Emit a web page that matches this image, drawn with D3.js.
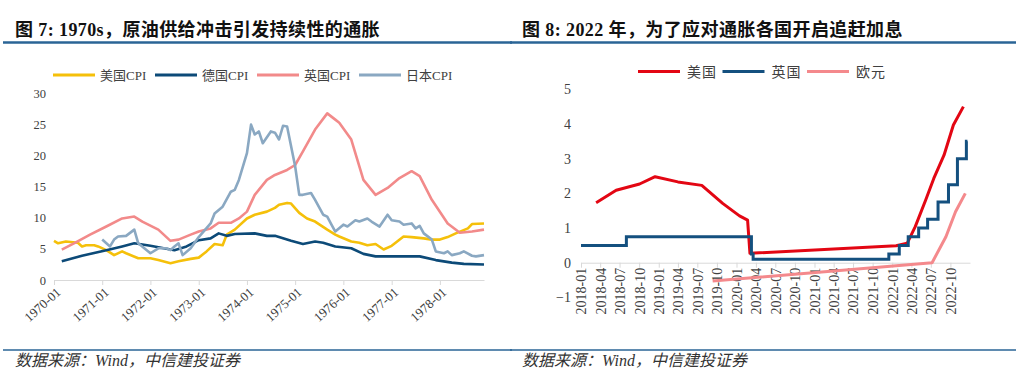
<!DOCTYPE html>
<html>
<head>
<meta charset="utf-8">
<script src="https://cdn.jsdelivr.net/npm/d3@7"></script>
<style>
  body { margin: 0; background: #fff; }
</style>
</head>
<body>
<div id="chart"></div>
<script>
// ---------- figure 7: CPI yoy (%) ----------
const usCPI = [
  ["1970-01", 6.3], ["1970-02", 5.9], ["1970-04", 6.2], ["1970-07", 6.0], ["1970-08", 5.4],
  ["1970-09", 5.6], ["1970-11", 5.6], ["1970-12", 5.4], ["1971-02", 4.8], ["1971-04", 4.0],
  ["1971-06", 4.6], ["1971-07", 4.3], ["1971-10", 3.5], ["1972-01", 3.5], ["1972-03", 3.2],
  ["1972-06", 2.7], ["1972-08", 3.0], ["1972-11", 3.4], ["1973-01", 3.6], ["1973-03", 4.6],
  ["1973-05", 5.8], ["1973-07", 5.6], ["1973-08", 7.3], ["1973-10", 8.1], ["1974-01", 9.9],
  ["1974-03", 10.5], ["1974-06", 11.0], ["1974-08", 11.6], ["1974-09", 12.1], ["1974-11", 12.4],
  ["1974-12", 12.3], ["1975-02", 10.8], ["1975-04", 9.9], ["1975-06", 9.4], ["1975-09", 8.1],
  ["1975-11", 7.3], ["1975-12", 7.0], ["1976-03", 6.2], ["1976-05", 6.0], ["1976-07", 5.6],
  ["1976-09", 5.8], ["1976-11", 4.9], ["1977-01", 5.5], ["1977-04", 7.0], ["1977-06", 6.9],
  ["1977-09", 6.7], ["1977-11", 6.5], ["1978-01", 6.5], ["1978-03", 6.9], ["1978-05", 7.5],
  ["1978-08", 8.3], ["1978-09", 9.0], ["1978-12", 9.1]
];
const deCPI = [
  ["1970-03", 3.0], ["1970-08", 3.9], ["1971-02", 4.8], ["1971-06", 5.4], ["1971-09", 5.9],
  ["1972-01", 5.5], ["1972-07", 4.8], ["1972-10", 5.4], ["1973-01", 6.4], ["1973-04", 6.7],
  ["1973-06", 7.5], ["1973-08", 7.1], ["1973-10", 7.4], ["1974-03", 7.5], ["1974-06", 7.1],
  ["1974-08", 7.1], ["1974-12", 6.3], ["1975-03", 5.8], ["1975-06", 6.2], ["1975-08", 6.0],
  ["1975-11", 5.4], ["1976-03", 5.1], ["1976-06", 4.2], ["1976-09", 3.8], ["1977-02", 3.8],
  ["1977-08", 3.8], ["1977-12", 3.2], ["1978-04", 2.8], ["1978-07", 2.6], ["1978-12", 2.5]
];
const ukCPI = [
  ["1970-03", 4.9], ["1970-06", 5.9], ["1970-10", 7.3], ["1971-02", 8.6], ["1971-06", 9.9],
  ["1971-09", 10.2], ["1971-11", 9.4], ["1972-03", 8.1], ["1972-06", 6.3], ["1972-08", 6.5],
  ["1972-11", 7.3], ["1973-01", 7.8], ["1973-04", 8.3], ["1973-06", 9.2], ["1973-09", 9.2],
  ["1973-11", 9.9], ["1974-01", 11.0], ["1974-03", 13.7], ["1974-06", 16.1], ["1974-08", 16.9],
  ["1974-11", 17.7], ["1975-01", 18.5], ["1975-03", 20.7], ["1975-06", 24.2], ["1975-09", 26.8],
  ["1975-11", 25.8], ["1975-12", 25.3], ["1976-03", 22.6], ["1976-06", 16.1], ["1976-09", 13.7],
  ["1976-12", 14.8], ["1977-03", 16.4], ["1977-06", 17.5], ["1977-08", 16.7], ["1977-11", 12.9],
  ["1978-03", 9.1], ["1978-06", 7.6], ["1978-09", 7.8], ["1978-12", 8.1]
];
const jpCPI = [
  ["1971-01", 6.5], ["1971-03", 5.4], ["1971-04", 6.5], ["1971-05", 7.0], ["1971-07", 7.1],
  ["1971-09", 8.1], ["1971-10", 5.9], ["1972-01", 4.3], ["1972-03", 5.1], ["1972-05", 5.1],
  ["1972-06", 4.8], ["1972-07", 5.4], ["1972-08", 5.9], ["1972-09", 4.0], ["1972-11", 5.1],
  ["1973-01", 6.9], ["1973-04", 9.1], ["1973-05", 10.7], ["1973-07", 11.8], ["1973-09", 14.2],
  ["1973-10", 14.5], ["1973-11", 16.1], ["1974-01", 20.4], ["1974-02", 25.0], ["1974-03", 23.4],
  ["1974-04", 23.9], ["1974-05", 22.0], ["1974-07", 23.9], ["1974-08", 23.7], ["1974-09", 22.6],
  ["1974-10", 24.8], ["1974-11", 24.7], ["1975-01", 18.3], ["1975-02", 13.7], ["1975-03", 13.7],
  ["1975-05", 14.0], ["1975-06", 12.9], ["1975-08", 10.5], ["1975-09", 10.2], ["1975-10", 9.0],
  ["1975-11", 7.8], ["1976-01", 8.9], ["1976-02", 8.6], ["1976-04", 9.6], ["1976-05", 9.4],
  ["1976-07", 9.9], ["1976-08", 9.4], ["1976-10", 8.6], ["1976-12", 10.5], ["1977-01", 9.6],
  ["1977-03", 9.4], ["1977-04", 8.9], ["1977-06", 9.1], ["1977-07", 8.3], ["1977-08", 8.7],
  ["1977-09", 7.5], ["1977-11", 6.5], ["1977-12", 4.6], ["1978-02", 4.3], ["1978-03", 4.6],
  ["1978-04", 4.0], ["1978-06", 4.3], ["1978-07", 4.6], ["1978-09", 3.9], ["1978-10", 3.8],
  ["1978-12", 4.0]
];
const cpiNames = ["美国CPI", "德国CPI", "英国CPI", "日本CPI"];
const cpiTicks = ["1970-01", "1971-01", "1972-01", "1973-01", "1974-01", "1975-01", "1976-01", "1977-01", "1978-01"];
const cpiYTicks = [0, 5, 10, 15, 20, 25, 30];

// ---------- figure 8: policy rates (%) ----------
const usRate = [
  ["2018-03-13", 1.73], ["2018-06-15", 2.09], ["2018-10-03", 2.27], ["2018-12-15", 2.48],
  ["2019-04-01", 2.33], ["2019-07-22", 2.23], ["2019-10-28", 1.71], ["2020-01-15", 1.35],
  ["2020-02-22", 1.23], ["2020-03-04", 0.27], ["2022-01-19", 0.49], ["2022-03-12", 0.56],
  ["2022-04-19", 1.04], ["2022-06-07", 1.81], ["2022-07-15", 2.43], ["2022-09-01", 3.10],
  ["2022-10-15", 3.97], ["2022-12-01", 4.50]
];
const ukRate = [
  ["2018-01-01", 0.5], ["2018-08-02", 0.75], ["2020-03-11", 0.25], ["2020-03-19", 0.1],
  ["2021-12-16", 0.25], ["2022-02-03", 0.5], ["2022-03-17", 0.75], ["2022-05-05", 1.0],
  ["2022-06-16", 1.25], ["2022-08-04", 1.75], ["2022-09-22", 2.25], ["2022-11-03", 3.0],
  ["2022-12-15", 3.5], ["2022-12-20", 3.5]
];
const euroRate = [
  ["2019-09-11", -0.53], ["2022-07-07", 0.0], ["2022-09-10", 0.75], ["2022-10-25", 1.47],
  ["2022-12-10", 2.0]
];
const rateNames = ["美国", "英国", "欧元"];
const rateTicks = [
  "2018-01", "2018-04", "2018-07", "2018-10", "2019-01", "2019-04", "2019-07", "2019-10",
  "2020-01", "2020-04", "2020-07", "2020-10", "2021-01", "2021-04", "2021-07", "2021-10",
  "2022-01", "2022-04", "2022-07", "2022-10"
];
const rateYTicks = [-1, 0, 1, 2, 3, 4, 5];

const titles = ["图 7: 1970s，原油供给冲击引发持续性的通胀", "图 8: 2022 年，为了应对通胀各国开启追赶加息"];
const source = "数据来源：Wind，中信建投证券";

const serif = '"Liberation Serif", "Times New Roman", "Noto Sans CJK SC", serif';
const cjk = '"Liberation Serif", "Noto Sans CJK SC", sans-serif';
const parseMonth = d3.timeParse("%Y-%m");
const parseDay = d3.timeParse("%Y-%m-%d");

const svg = d3.select("#chart")
  .append("svg")
  .attr("width", 1024)
  .attr("height", 370)
  .style("background", "#fff");

// title, rules and source note for both panels
[[3, 512, 15, 0.4], [510, 1016, 522, 0.4]].forEach(([x0, x1, tx, ls], i) => {
  svg.append("text")
    .attr("x", tx).attr("y", 36)
    .attr("font-family", cjk).attr("font-weight", "bold")
    .attr("font-size", 18).attr("fill", "#111")
    .attr("letter-spacing", ls)
    .text(titles[i]);
  svg.append("line")
    .attr("x1", x0).attr("x2", x1).attr("y1", 42.5).attr("y2", 42.5)
    .attr("stroke", "#2a6496").attr("stroke-width", 2.5);
  svg.append("line")
    .attr("x1", x0).attr("x2", x1).attr("y1", 350).attr("y2", 350)
    .attr("stroke", "#2a6496").attr("stroke-width", 1.5);
  svg.append("text")
    .attr("x", tx).attr("y", 366)
    .attr("font-family", cjk).attr("font-style", "italic")
    .attr("font-size", 16).attr("fill", "#333")
    .text(source);
});

// ---------- left chart ----------
const x1 = d3.scaleTime()
  .domain([parseMonth("1970-01"), parseMonth("1978-12")])
  .range([54, 484]);
const y1 = d3.scaleLinear().domain([0, 30]).range([280, 93.5]);

const ax1 = svg.append("g")
  .attr("transform", "translate(0,280)")
  .call(d3.axisBottom(x1)
    .tickValues(cpiTicks.map(parseMonth))
    .tickFormat(d3.timeFormat("%Y-%m"))
    .tickSize(5).tickSizeOuter(0));
ax1.select(".domain").attr("stroke", "#d9d9d9");
ax1.selectAll(".tick line").attr("stroke", "#d9d9d9");
ax1.selectAll(".tick text")
  .attr("font-family", serif).attr("font-size", 13).attr("fill", "#404040")
  .attr("text-anchor", "end")
  .attr("x", 0).attr("y", 0).attr("dy", "0.35em")
  .attr("transform", "translate(4,10) rotate(-42)");

const ay1 = svg.append("g")
  .attr("transform", "translate(46,0)")
  .call(d3.axisLeft(y1).tickValues(cpiYTicks).tickSize(0).tickPadding(0));
ay1.select(".domain").remove();
ay1.selectAll("text").attr("font-family", serif).attr("font-size", 12.5).attr("fill", "#404040");

const cpiColors = ["#f5c00a", "#0c4a78", "#f28a8a", "#8aa8c2"];
const line1 = d3.line()
  .x(d => x1(parseMonth(d[0])))
  .y(d => y1(d[1]));
[usCPI, deCPI, ukCPI, jpCPI].forEach((s, i) => {
  svg.append("path")
    .datum(s)
    .attr("fill", "none")
    .attr("stroke", cpiColors[i])
    .attr("stroke-width", 2.6)
    .attr("stroke-linejoin", "round")
    .attr("d", line1);
});

// legend
cpiNames.forEach((name, i) => {
  const lx = 53 + i * 102;
  svg.append("line")
    .attr("x1", lx).attr("x2", lx + 42).attr("y1", 75).attr("y2", 75)
    .attr("stroke", cpiColors[i]).attr("stroke-width", 3);
  svg.append("text")
    .attr("x", lx + 47).attr("y", 79.5)
    .attr("font-family", cjk).attr("font-size", 13).attr("fill", "#404040")
    .text(name);
});

// ---------- right chart ----------
const x2 = d3.scaleTime()
  .domain([parseMonth("2018-01"), parseMonth("2023-01")])
  .range([581, 970]);
const y2 = d3.scaleLinear().domain([-1, 5]).range([297.4, 89.3]);

const ax2 = svg.append("g")
  .attr("transform", `translate(0,${y2(0)})`)
  .call(d3.axisBottom(x2)
    .tickValues(rateTicks.map(parseMonth))
    .tickFormat(d3.timeFormat("%Y-%m"))
    .tickSize(5).tickSizeOuter(0));
ax2.select(".domain").attr("stroke", "#d9d9d9");
ax2.selectAll(".tick line").attr("stroke", "#d9d9d9");
ax2.selectAll(".tick text")
  .attr("font-family", serif).attr("font-size", 14).attr("fill", "#404040")
  .attr("text-anchor", "end")
  .attr("x", -5).attr("y", 0).attr("dy", "0.35em")
  .attr("transform", "rotate(-90)");

const ay2 = svg.append("g")
  .attr("transform", "translate(571,0)")
  .call(d3.axisLeft(y2).tickValues(rateYTicks).tickFormat(d3.format("d")).tickSize(0).tickPadding(0));
ay2.select(".domain").remove();
ay2.selectAll("text").attr("font-family", serif).attr("font-size", 14).attr("fill", "#404040");

const rateColors = ["#e30613", "#14507f", "#f4898c"];
const line2 = d3.line()
  .x(d => x2(parseDay(d[0])))
  .y(d => y2(d[1]));
svg.append("path").datum(usRate)
  .attr("fill", "none").attr("stroke", rateColors[0]).attr("stroke-width", 3)
  .attr("stroke-linejoin", "round").attr("d", line2);
svg.append("path").datum(ukRate)
  .attr("fill", "none").attr("stroke", rateColors[1]).attr("stroke-width", 3)
  .attr("d", line2.curve(d3.curveStepAfter));
line2.curve(d3.curveLinear);
svg.append("path").datum(euroRate)
  .attr("fill", "none").attr("stroke", rateColors[2]).attr("stroke-width", 3)
  .attr("stroke-linejoin", "round").attr("d", line2);

rateNames.forEach((name, i) => {
  const lx = 638 + i * 84.5;
  svg.append("line")
    .attr("x1", lx).attr("x2", lx + 42).attr("y1", 71.5).attr("y2", 71.5)
    .attr("stroke", rateColors[i]).attr("stroke-width", 3);
  svg.append("text")
    .attr("x", lx + 49).attr("y", 76.5)
    .attr("font-family", cjk).attr("font-size", 14).attr("fill", "#404040")
    .attr("letter-spacing", 1)
    .text(name);
});
</script>
</body>
</html>
